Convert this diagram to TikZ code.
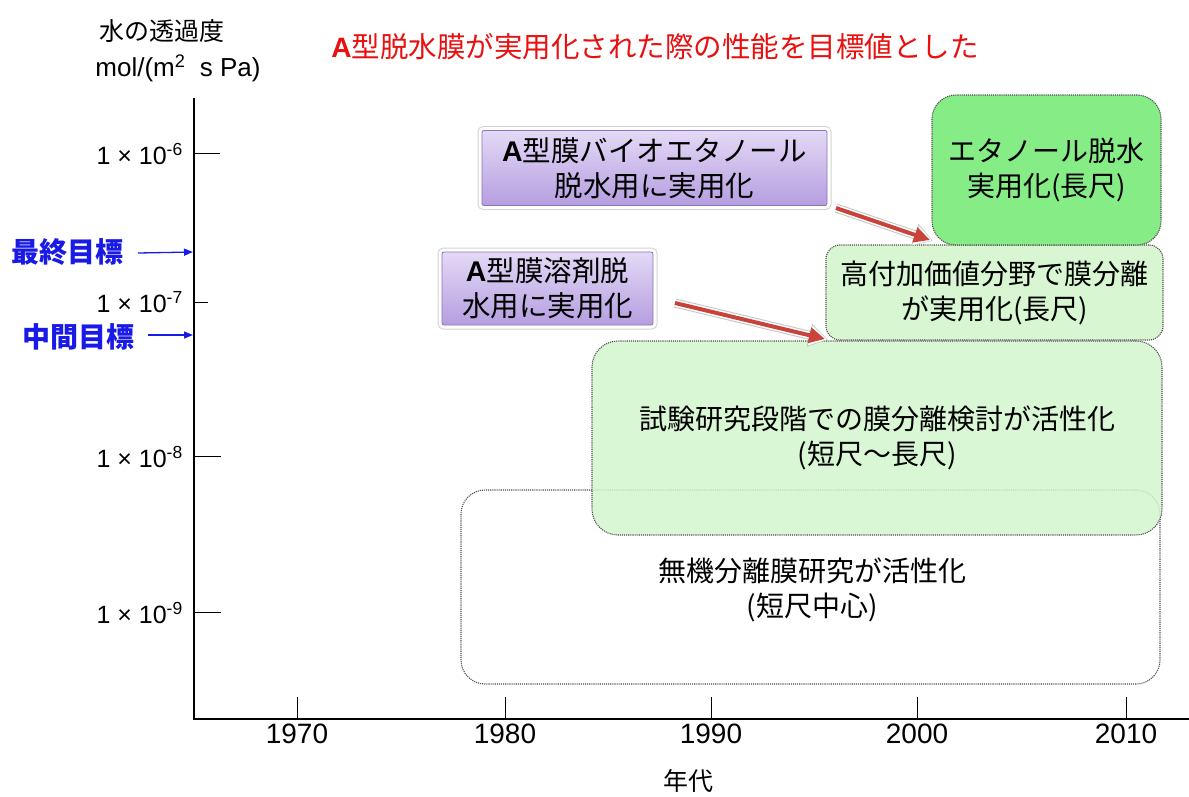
\documentclass[tikz,border=0pt]{standalone}
\usepackage{fontspec}
\setmainfont{Liberation Sans}
\newfontfamily\jp{Noto Sans CJK JP}
\usetikzlibrary{arrows.meta}
\definecolor{purT}{HTML}{E4D9F6}
\definecolor{purB}{HTML}{B59EE0}
\definecolor{purD}{HTML}{8A74BC}
\definecolor{gBright}{HTML}{86EC86}
\definecolor{gPale}{HTML}{D8F6D2}
\definecolor{gBig}{HTML}{D4F6CE}
\definecolor{arrRed}{HTML}{C8443A}
\definecolor{tgtBlue}{HTML}{1A1AE6}
\definecolor{titleRed}{HTML}{E81010}
\begin{document}
\begin{tikzpicture}[x=1pt,y=-1pt,
  axisline/.style={line width=1.4pt,black},
  tickline/.style={line width=1pt,black},
  ticklab/.style={anchor=east,font=\fontsize{25}{28}\selectfont,inner sep=0pt},
  yearlab/.style={anchor=north,font=\fontsize{28}{30}\selectfont,inner sep=0pt},
  purbox/.style={rectangle,rounded corners=2pt,draw=purD,line width=0.8pt,
    top color=purT,bottom color=purB,align=center,inner sep=0pt,
    font=\jp\fontsize{28.5}{35}\selectfont,
    preaction={draw=gray!35,line width=9pt,rounded corners=5pt},
    preaction={draw=white,line width=7pt,rounded corners=5pt}},
  grnbox/.style={rectangle,draw=gray!60!black,densely dotted,line width=1.1pt,
    align=center,inner sep=0pt,font=\jp\fontsize{28}{35}\selectfont},
  redarrow/.style={draw=arrRed,line width=4pt,-{Triangle[length=16pt,width=15pt]},
    preaction={draw=gray!45,line width=9pt,-{Triangle[length=19pt,width=22pt]},shorten >=-3pt},
    preaction={draw=white,line width=7pt,-{Triangle[length=17pt,width=19pt]},shorten >=-2pt}},
  tgtarrow/.style={draw=tgtBlue,line width=1.3pt,-{Triangle[length=9pt,width=7pt]}},
  tgtlab/.style={text=tgtBlue,font=\jp\bfseries\fontsize{28}{30}\selectfont,inner sep=0pt}
]
\useasboundingbox (0,0) rectangle (1189,796);
\fill[white] (0,0) rectangle (1189,796);

% title and axis label
\node[inner sep=0pt,text=titleRed] (title) at (655,47)
  {{\bfseries\fontsize{28}{32}\selectfont A}{\jp\fontsize{28.5}{32}\selectfont 型脱水膜が実用化された際の性能を目標値とした}};
\node[inner sep=0pt,font=\jp\fontsize{25}{28}\selectfont] (ylab1) at (162,31) {水の透過度};
\node[inner sep=0pt,font=\fontsize{26}{28}\selectfont] (ylab2) at (178,68) {mol/(m\textsuperscript{2}\ \ s Pa)};

% boxes (back to front)
\node[grnbox,fill=white,rounded corners=24pt,minimum width=699pt,minimum height=194pt] (inorg) at (810.5,587)
  {};
\node[grnbox,fill=gBig,fill opacity=0.85,text opacity=1,rounded corners=26pt,minimum width=570pt,minimum height=194pt] (trial) at (877,438)
  {試験研究段階での膜分離検討が活性化\\(短尺～長尺)};
\node[inner sep=0pt,align=center,font=\jp\fontsize{28}{35}\selectfont] (inorgtxt) at (812,590)
  {無機分離膜研究が活性化\\(短尺中心)};
\node[grnbox,fill=gPale,rounded corners=14pt,minimum width=337pt,minimum height=95pt] (hv) at (994.5,292.5)
  {高付加価値分野で膜分離\\が実用化(長尺)};
\node[grnbox,fill=gBright,rounded corners=24pt,minimum width=229pt,minimum height=150pt] (eth) at (1046.5,170)
  {エタノール脱水\\実用化(長尺)};

\node[purbox,minimum width=345pt,minimum height=75pt] (p1) at (654.5,168)
  {{\normalfont\bfseries A}型膜バイオエタノール\\脱水用に実用化};
\node[purbox,minimum width=211pt,minimum height=73pt] (p2) at (547.5,288.5)
  {{\normalfont\bfseries A}型膜溶剤脱\\水用に実用化};

% red arrows
\coordinate (a1s) at (836,208);
\coordinate (a1e) at (930,240);
\coordinate (a2s) at (675,303);
\coordinate (a2e) at (825,339);
\draw[redarrow] (a1s) -- (a1e);
\draw[redarrow] (a2s) -- (a2e);

% axes
\coordinate (O) at (194,719);
\coordinate (Ytop) at (194,98);
\coordinate (Xend) at (1189,719);
\draw[axisline] (Ytop) -- (O) -- (Xend);

% y ticks
\coordinate (t6) at (194,153);
\coordinate (t7) at (194,302.5);
\coordinate (t8) at (194,456.5);
\coordinate (t9) at (194,612.5);
\draw[tickline] (t6) -- ++(26,0);
\draw[tickline] (t7) -- ++(14,0);
\draw[tickline] (t8) -- ++(27,0);
\draw[tickline] (t9) -- ++(27,0);
\node[ticklab] (l6) at (183,154) {1 × 10\textsuperscript{-6}};
\node[ticklab] (l7) at (183,302) {1 × 10\textsuperscript{-7}};
\node[ticklab] (l8) at (183,457) {1 × 10\textsuperscript{-8}};
\node[ticklab] (l9) at (183,613) {1 × 10\textsuperscript{-9}};

% targets
\coordinate (ft) at (193,252);
\coordinate (mt) at (193,335);
\node[tgtlab] (fl) at (68,252) {最終目標};
\node[tgtlab] (ml) at (78,337) {中間目標};
\draw[tgtarrow] (138,253) -- (ft);
\draw[tgtarrow] (148,335) -- (mt);

% x ticks
\foreach \xx/\yy in {297/1970,505/1980,711/1990,917/2000,1126/2010}{
  \draw[tickline] (\xx,697) -- (\xx,719);
  \node[yearlab] (y\yy) at (\xx,724) {\yy};
}
\node[inner sep=0pt,font=\jp\fontsize{25}{28}\selectfont] (xlab) at (688,781) {年代};
\end{tikzpicture}
\end{document}
